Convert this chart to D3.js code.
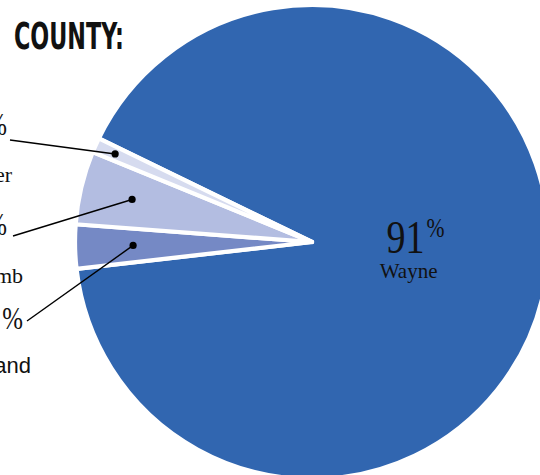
<!DOCTYPE html>
<html>
<head>
<meta charset="utf-8">
<script src="https://cdn.jsdelivr.net/npm/d3@7/dist/d3.min.js"></script>
<style>
  html, body { margin: 0; padding: 0; background: #fff; }
  svg { display: block; }
</style>
</head>
<body>
<svg id="chart" width="540" height="475"></svg>
<script>
// ---- data ----
const categories = ["Wayne", "Oakland", "Macomb", "Other"];
const values = [91, 3, 5, 1];
const colors = ["#3166b0", "#7589c5", "#b3bde1", "#d6dbef"];
const title = "COUNTY:";

// ---- layout ----
const W = 540, H = 475;
const cx = 312, cy = 242, R = 237;
const startDeg = -64.1;

// label layout for the small (outside) slices
const outside = {
  Other:   { dotR: 0.91, end: [10, 140], pctEnd: 7,  base: 153, nameEnd: 12, nameY: 182, nameFont: "Liberation Serif, serif" },
  Macomb:  { dotR: 0.78, end: [13, 236], pctEnd: 7,  base: 253, nameEnd: 23, nameY: 283, nameFont: "Liberation Serif, serif" },
  Oakland: { dotR: 0.755, end: [27, 321], pctEnd: 23, base: 347, nameEnd: 31, nameY: 373, nameFont: "Liberation Sans, Arial, sans-serif" }
};

const svg = d3.select("#chart");

const rows = categories.map((c, i) => ({ cat: c, value: values[i], color: colors[i] }));

const pie = d3.pie()
  .value(d => d.value)
  .sort(null)
  .startAngle(startDeg * Math.PI / 180)
  .endAngle((startDeg + 360) * Math.PI / 180);

const arcs = pie(rows);
const arc = d3.arc().innerRadius(0).outerRadius(R);

const g = svg.append("g").attr("transform", `translate(${cx},${cy})`);

g.selectAll("path.slice")
  .data(arcs)
  .join("path")
  .attr("class", "slice")
  .attr("d", arc)
  .attr("fill", d => d.data.color)
  .attr("stroke", "#fff")
  .attr("stroke-width", 4.2)
  .attr("stroke-linejoin", "round");

// title
svg.append("text")
  .attr("x", 14)
  .attr("y", 49)
  .attr("font-family", "Liberation Sans Narrow, DejaVu Sans Condensed, Arial Narrow, sans-serif")
  .attr("font-weight", "bold")
  .attr("font-size", 37)
  .attr("textLength", 110)
  .attr("lengthAdjust", "spacingAndGlyphs")
  .attr("fill", "#111")
  .text(title);

function drawNumber(pctEnd, base, s, value) {
  const digits = String(value);
  const pctW = 18 * s;
  const digW = 19 * s * digits.length;
  const digEnd = pctEnd - pctW - 2 * s;
  svg.append("text")
    .attr("x", digEnd - digW)
    .attr("y", base)
    .attr("font-family", "Liberation Serif, serif")
    .attr("font-size", 47 * s)
    .attr("textLength", digW)
    .attr("lengthAdjust", "spacingAndGlyphs")
    .attr("fill", "#111")
    .text(digits);
  svg.append("text")
    .attr("x", pctEnd - pctW)
    .attr("y", base - 16 * s)
    .attr("font-family", "Liberation Serif, serif")
    .attr("font-size", 28 * s)
    .attr("textLength", pctW)
    .attr("lengthAdjust", "spacingAndGlyphs")
    .attr("fill", "#111")
    .text("%");
}

arcs.forEach(a => {
  const cat = a.data.cat;
  if (outside[cat]) {
    const L = outside[cat];
    const dot = d3.arc().innerRadius(R * L.dotR).outerRadius(R * L.dotR).centroid(a);
    const dx = cx + dot[0], dy = cy + dot[1];
    svg.append("line")
      .attr("x1", dx).attr("y1", dy)
      .attr("x2", L.end[0]).attr("y2", L.end[1])
      .attr("stroke", "#000").attr("stroke-width", 1.4);
    svg.append("circle")
      .attr("cx", dx).attr("cy", dy).attr("r", 3.6).attr("fill", "#000");
    drawNumber(L.pctEnd, L.base, 1.15, a.data.value);
    svg.append("text")
      .attr("x", L.nameEnd)
      .attr("y", L.nameY)
      .attr("text-anchor", "end")
      .attr("font-family", L.nameFont)
      .attr("font-size", 22)
      .attr("fill", "#111")
      .text(cat);
  } else {
    const c = d3.arc().innerRadius(100).outerRadius(100).centroid(a);
    const ax = cx + c[0], ay = cy + c[1];
    drawNumber(ax + 34, ay - 6, 1, a.data.value);
    svg.append("text")
      .attr("x", ax - 2)
      .attr("y", ay + 19)
      .attr("text-anchor", "middle")
      .attr("font-family", "Liberation Serif, serif")
      .attr("font-size", 21)
      .attr("fill", "#111")
      .text(cat);
  }
});
</script>
</body>
</html>
